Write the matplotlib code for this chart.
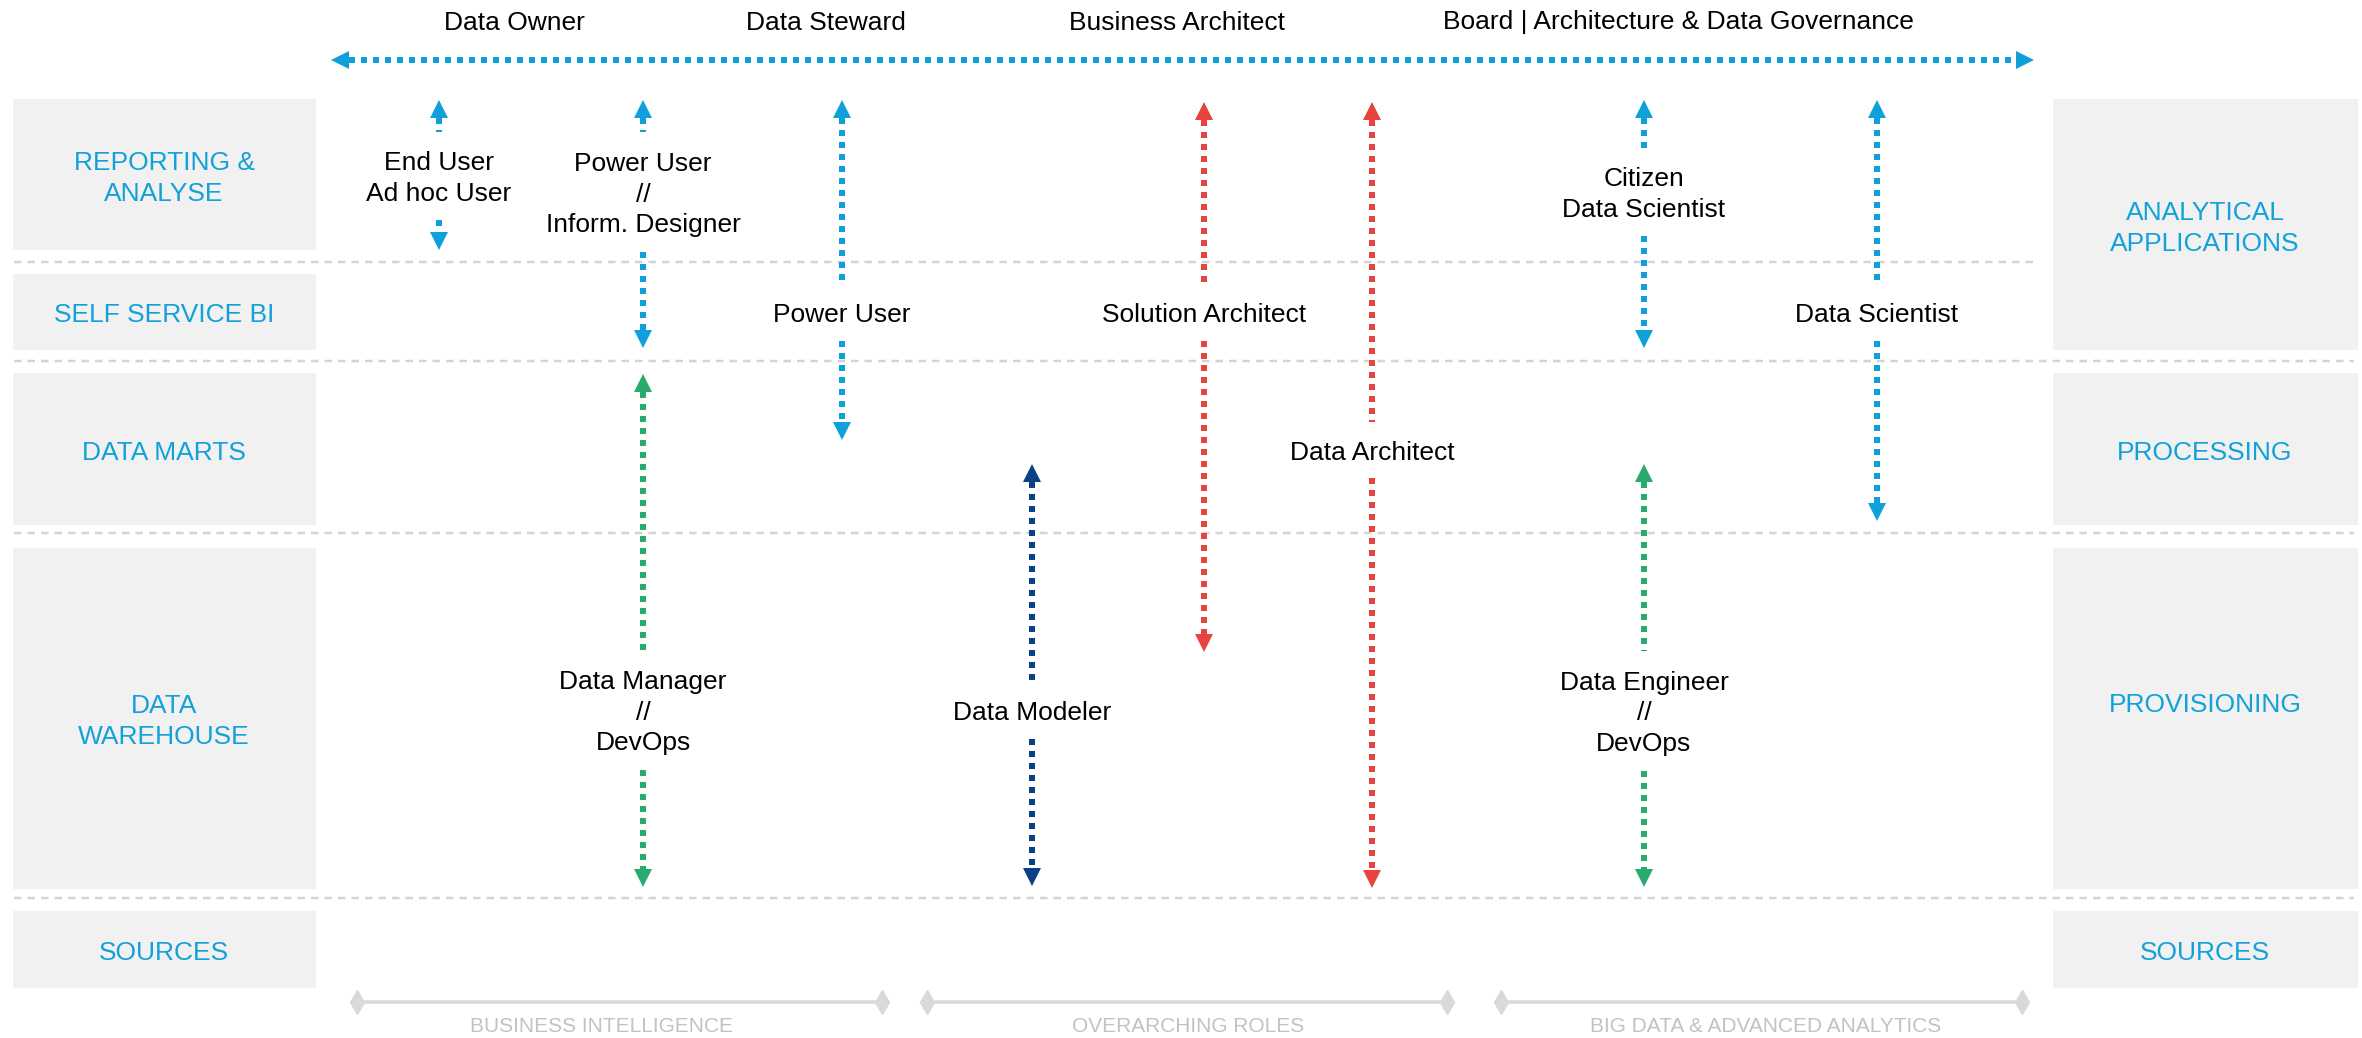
import matplotlib
matplotlib.use("Agg")
import matplotlib.pyplot as plt
from matplotlib.patches import Polygon, Rectangle

plt.rcParams['font.family'] = ['Liberation Sans', 'DejaVu Sans']

# ---------------- data ----------------
top_roles = ["Data Owner", "Data Steward", "Business Architect",
             "Board | Architecture & Data Governance"]
top_role_x = [514, 826, 1177, 1678]

left_layers = ["REPORTING &\nANALYSE", "SELF SERVICE BI", "DATA MARTS",
               "DATA\nWAREHOUSE", "SOURCES"]
left_top = [99, 274, 373, 548, 911]
left_bottom = [250, 350, 525, 889, 988]
left_label_y = [176, 313, 450, 719, 950]

right_layers = ["ANALYTICAL\nAPPLICATIONS", "PROCESSING", "PROVISIONING", "SOURCES"]
right_top = [99, 373, 548, 911]
right_bottom = [350, 525, 889, 988]
right_label_y = [226, 450, 703, 950]

separator_y = [262, 361, 533, 898]
separator_x1 = [2039, 2354, 2354, 2354]

roles = ["End User\nAd hoc User", "Power User\n//\nInform. Designer", "Power User",
         "Solution Architect", "Data Architect", "Data Modeler",
         "Data Manager\n//\nDevOps", "Data Engineer\n//\nDevOps",
         "Citizen\nData Scientist", "Data Scientist"]
role_x = [439, 643, 842, 1204, 1372, 1032, 643, 1644, 1644, 1877]
role_top = [100, 100, 100, 102, 102, 464, 374, 464, 100, 100]
role_bottom = [250, 348, 440, 652, 888, 886, 887, 887, 348, 521]
role_label_y = [176, 192, 313, 313, 450, 711, 710, 711, 192, 313]
role_group = ["bi", "bi", "bi", "arch", "arch", "model", "ops", "ops", "bi", "bi"]

areas = ["BUSINESS INTELLIGENCE", "OVERARCHING ROLES", "BIG DATA & ADVANCED ANALYTICS"]
area_x0 = [357, 927, 1501]
area_x1 = [882, 1447, 2022]
area_label_x = [601, 1188, 1766]

# ---------------- style ----------------
BLUE = "#0FA0DA"
TEXT_BLUE = "#13A1D9"
COLORS = {"bi": BLUE, "arch": "#E8433F", "model": "#0B3F86", "ops": "#2BAA6D"}
BOX = "#F1F1F1"
SEP = "#D4D4D4"
FS = 19
LS = 1.36
PX = 0.72  # points per pixel at dpi 100
HEAD = 18
DOT_LW = 6 * PX

W, H = 2362, 1038
fig = plt.figure(figsize=(W / 100, H / 100), dpi=100)
ax = fig.add_axes([0, 0, 1, 1])
ax.set_xlim(0, W)
ax.set_ylim(H, 0)
ax.axis("off")


def dotted(x0, y0, x1, y1, color):
    ax.plot([x0, x1], [y0, y1], color=color, lw=DOT_LW, linestyle=(0, (1, 1)),
            solid_capstyle="butt", dash_capstyle="butt", zorder=3)


def head(x, y, direction, color):
    dx, dy = direction
    bx, by = x - dx * HEAD, y - dy * HEAD
    px, py = -dy, dx
    pts = [(x, y), (bx + px * HEAD / 2, by + py * HEAD / 2),
           (bx - px * HEAD / 2, by - py * HEAD / 2)]
    ax.add_patch(Polygon(pts, closed=True, facecolor=color, edgecolor="none", zorder=4))


# boxes
for lab, t, b, ly in zip(left_layers, left_top, left_bottom, left_label_y):
    ax.add_patch(Rectangle((13, t), 316 - 13, b - t, facecolor=BOX, edgecolor="none", zorder=1))
    ax.text(164, ly + 2.5, lab, ha="center", va="center", color=TEXT_BLUE,
            fontsize=FS, linespacing=LS, zorder=2)
for lab, t, b, ly in zip(right_layers, right_top, right_bottom, right_label_y):
    ax.add_patch(Rectangle((2053, t), 2358 - 2053, b - t, facecolor=BOX, edgecolor="none", zorder=1))
    ax.text(2205, ly + 2.5, lab, ha="center", va="center", color=TEXT_BLUE,
            fontsize=FS, linespacing=LS, zorder=2)

# separators
for y, x1 in zip(separator_y, separator_x1):
    ax.plot([14, x1], [y, y], color=SEP, lw=2.5 * PX, linestyle=(0, (3, 2.4)), zorder=1.5)

# top roles and horizontal arrow
for lab, x in zip(top_roles, top_role_x):
    ax.text(x, 20 + 2.5, lab, ha="center", va="center", fontsize=FS, color="black")
dotted(331 + HEAD, 60, 2034 - HEAD, 60, BLUE)
head(331, 60, (-1, 0), BLUE)
head(2034, 60, (1, 0), BLUE)

# vertical role arrows
for lab, x, t, b, ly, g in zip(roles, role_x, role_top, role_bottom, role_label_y, role_group):
    c = COLORS[g]
    n = lab.count("\n") + 1
    half = 28 + 16 * (n - 1)
    dotted(x, t + HEAD, x, ly - half, c)
    dotted(x, ly + half, x, b - HEAD, c)
    head(x, t, (0, -1), c)
    head(x, b, (0, 1), c)
    ax.text(x, ly + 2.5, lab, ha="center", va="center", fontsize=FS, color="black",
            linespacing=LS, zorder=5)

# bottom areas
for lab, x0, x1, lx in zip(areas, area_x0, area_x1, area_label_x):
    ax.plot([x0, x1], [1002, 1002], color="#D9D9D9", lw=3.5 * PX,
            marker="d", markersize=12, markevery=[0, 1], zorder=2)
    ax.text(lx, 1025 + 2, lab, ha="center", va="center", fontsize=15, color="#C2C2C2")

fig.savefig("out.png", dpi=100)
